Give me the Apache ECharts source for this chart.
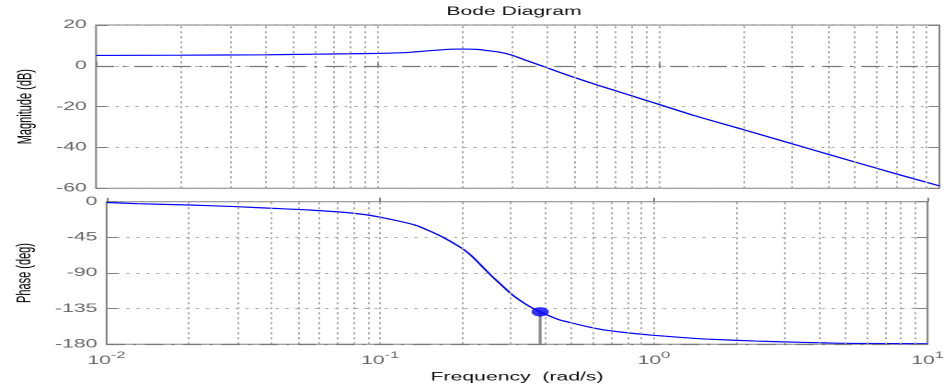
<!DOCTYPE html>
<html><head><meta charset="utf-8">
<script src="https://cdn.jsdelivr.net/npm/echarts@6/dist/echarts.min.js"></script>
<style>
html,body{margin:0;padding:0;background:#fff;overflow:hidden;width:950px;height:390px}
#wrap{position:absolute;left:0;top:0;height:390px;transform-origin:0 0;}
</style></head><body><div id="wrap"></div>
<script>
// ---- data ----
const magFreq = [0.01, 0.02, 0.04, 0.06, 0.08, 0.1, 0.127, 0.15, 0.18, 0.2, 0.23, 0.245, 0.27, 0.3, 0.34, 0.39, 0.45, 0.5, 0.6, 0.7, 0.88, 1.0, 1.33, 2, 3.45, 5, 7, 10];
const magDb   = [5.1, 5.2, 5.4, 5.7, 5.9, 6.1, 6.5, 7.3, 8.1, 8.2, 8.0, 7.5, 6.8, 5.3, 2.6, -0.3, -3.4, -5.6, -9.2, -12.1, -16.4, -18.8, -24.2, -31.2, -40.7, -47.1, -52.9, -58.8];
const phFreq  = [0.01, 0.013, 0.02, 0.03, 0.04, 0.055, 0.08, 0.1, 0.134, 0.163, 0.197, 0.215, 0.233, 0.248, 0.267, 0.305, 0.35, 0.384, 0.446, 0.498, 0.586, 0.672, 0.836, 0.985, 1.26, 1.56, 2.36, 3.45, 5.2, 10];
const phDeg   = [-1, -2.5, -4.2, -6.3, -8.3, -10.5, -14.6, -19.5, -29.5, -42, -58, -68, -80, -89.5, -100, -118, -132, -139, -148.5, -152.8, -158.6, -162.4, -166.2, -168.5, -171.3, -173.4, -175.9, -177.5, -178.8, -179.3];
const pmFreq  = [0.384];
const pmDeg   = [-139];
const magTicks   = [-60, -40, -20, 0, 20];
const phaseTicks = [-180, -135, -90, -45, 0];
const freqTickExp = ['-2', '-1', '0', '1'];
const titleText = 'Bode Diagram';
const xName = 'Frequency  (rad/s)';
const magName = 'Magnitude (dB)';
const phName = 'Phase (deg)';

// ---- layout (the reference is horizontally stretched) ----
const S = 1.84, W = 950 / S;
const wrap = document.getElementById('wrap');
wrap.style.width = W + 'px';
wrap.style.transform = 'scaleX(' + S + ')';
const px = v => v / S;
const plotL = px(96), plotR = W - px(940);
const FONT = '"Liberation Sans", Arial, sans-serif';

const minorFreqs = [];
[0.01, 0.1, 1].forEach(d => { for (let k = 1; k <= 9; k++) { if (k === 1 && d === 0.01) continue; minorFreqs.push(+(k * d).toPrecision(3)); } });

const vGrid = {
  silent: true, symbol: ['none', 'none'], label: { show: false }, animation: false,
  lineStyle: { color: '#a8a8a8', type: [2, 3], width: 1 },
  data: minorFreqs.map(v => ({ xAxis: v }))
};
const ddStyle = { color: '#7a7a7a', type: [10, 4.5, 1.6, 4.7], width: 1.3 };

function xAx(gi, showLabels) {
  return {
    type: 'log', logBase: 10, min: 0.01, max: 10, gridIndex: gi, splitNumber: 3,
    axisLine: { show: false },
    axisTick: { show: true, inside: true, length: 4, lineStyle: { color: '#808080' } },
    splitLine: { show: false },
    axisLabel: showLabels ? {
      show: true, margin: 6.5, showMinLabel: true, showMaxLabel: true, color: '#666',
      formatter: v => { const e = Math.round(Math.log10(v)); return '{b|10}{s|' + freqTickExp[e + 2] + '}'; },
      rich: { b: { fontSize: 11.5, lineHeight: 20, color: '#666', fontFamily: FONT },
              s: { fontSize: 9, lineHeight: 4, verticalAlign: 'top', color: '#666', fontFamily: FONT } }
    } : { show: false },
    name: showLabels ? xName : '', nameLocation: 'middle', nameGap: 27,
    nameTextStyle: { fontSize: 11.5, color: '#111', fontFamily: FONT }
  };
}
function yAx(gi, ticks, name, gap, right) {
  return {
    type: 'value', gridIndex: gi, min: ticks[0], max: ticks[ticks.length - 1],
    interval: ticks[1] - ticks[0], position: right ? 'right' : 'left',
    axisLine: { show: false },
    axisTick: { show: true, inside: true, length: 6, lineStyle: { color: '#808080' } },
    axisLabel: right ? { show: false } : { show: true, margin: 5, color: '#666', fontSize: 11.5, fontFamily: FONT },
    splitLine: right ? { show: false } : { show: true, lineStyle: { color: '#a8a8a8', type: [1.6, 3.8], width: 1 } },
    name: right ? '' : name, nameLocation: 'middle', nameRotate: 90, nameGap: gap,
    nameTextStyle: { fontSize: 11, color: '#000', fontFamily: FONT }
  };
}

const chart = echarts.init(wrap, null, { renderer: 'canvas', devicePixelRatio: 2 });
chart.setOption({
  animation: false,
  backgroundColor: '#fff',
  textStyle: { fontFamily: FONT },
  title: { text: titleText, left: px(514), textAlign: 'center', top: 6, padding: 0,
           textStyle: { fontSize: 11.5, fontWeight: 'normal', color: '#111', fontFamily: FONT } },
  grid: [
    { left: plotL, right: plotR, top: 25, height: 163.3, show: true, borderColor: '#808080', borderWidth: 1, backgroundColor: 'transparent' },
    { left: plotL, right: plotR, top: 201.7, height: 142.6, show: true, borderColor: '#808080', borderWidth: 1, backgroundColor: 'transparent' }
  ],
  xAxis: [xAx(0, false), xAx(1, true)],
  yAxis: [yAx(0, magTicks, magName, 24.5, false), yAx(0, magTicks, '', 0, true),
          yAx(1, phaseTicks, phName, 38.5, false), yAx(1, phaseTicks, '', 0, true)],
  series: [
    { type: 'line', xAxisIndex: 0, yAxisIndex: 0, data: [], z: 1, silent: true,
      markLine: Object.assign({}, vGrid) },
    { type: 'line', xAxisIndex: 0, yAxisIndex: 0, data: [], z: 1, silent: true,
      markLine: { silent: true, symbol: ['none', 'none'], label: { show: false }, animation: false, lineStyle: ddStyle, data: [{ yAxis: 0 }] } },
    { type: 'line', xAxisIndex: 1, yAxisIndex: 2, data: [], z: 1, silent: true,
      markLine: Object.assign({}, vGrid) },
    { type: 'line', xAxisIndex: 1, yAxisIndex: 2, data: [], z: 1, silent: true,
      markLine: { silent: true, symbol: ['none', 'none'], label: { show: false }, animation: false, lineStyle: ddStyle, data: [{ yAxis: phaseTicks[0] }] } },
    { type: 'line', name: 'mag', xAxisIndex: 0, yAxisIndex: 0, z: 3,
      data: magFreq.map((f, i) => [f, magDb[i]]), showSymbol: false, smooth: 0.2,
      lineStyle: { color: '#0000ff', width: 1.2 }, itemStyle: { color: '#0000ff' } },
    { type: 'line', name: 'phase', xAxisIndex: 1, yAxisIndex: 2, z: 3,
      data: phFreq.map((f, i) => [f, phDeg[i]]), showSymbol: false, smooth: 0.2,
      lineStyle: { color: '#0000ff', width: 1.2 }, itemStyle: { color: '#0000ff' } },
    { type: 'line', name: 'pmStem', xAxisIndex: 1, yAxisIndex: 2, z: 4,
      data: [[pmFreq[0], pmDeg[0]], [pmFreq[0], phaseTicks[0]]], showSymbol: false,
      lineStyle: { color: '#8a8a8a', width: 1.6 } },
    { type: 'scatter', name: 'pm', xAxisIndex: 1, yAxisIndex: 2, z: 5,
      data: pmFreq.map((f, i) => [f, pmDeg[i]]), symbol: 'circle', symbolSize: 9.5,
      itemStyle: { color: '#0000ff' } }
  ]
});
</script></body></html>
